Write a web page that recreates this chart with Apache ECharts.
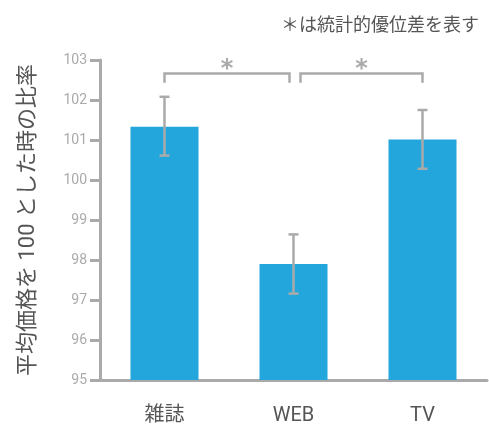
<!DOCTYPE html>
<html>
<head>
<meta charset="utf-8">
<script src="https://cdn.jsdelivr.net/npm/echarts@6/dist/echarts.min.js"></script>
<style>
  html, body { margin: 0; padding: 0; background: #fff; }
  #chart { width: 489px; height: 426px; }
</style>
</head>
<body>
<div id="chart"></div>
<script>
// Media categories and mean price ratio (average price = 100)
const categories = ['雑誌', 'WEB', 'TV'];
const means = [101.33, 97.90, 101.01];
const errLow = [100.61, 97.16, 100.28];
const errHigh = [102.08, 98.64, 101.75];
// Significance brackets: [from index, to index]
const sigPairs = [[0, 1], [1, 2]];
const sigMark = '*';
const yTicks = [95, 96, 97, 98, 99, 100, 101, 102, 103];

const FONT = '"Roboto", "Noto Sans CJK JP", sans-serif';
const GRAY = '#aaaaaa';

const chart = echarts.init(document.getElementById('chart'));

const errData = categories.map((c, i) => [i, errLow[i], errHigh[i]]);
const sigData = sigPairs.map(p => [p[0], p[1]]);

chart.setOption({
  animation: false,
  textStyle: { fontFamily: FONT },
  title: {
    text: '＊は統計的優位差を表す',
    right: 5,
    top: 10,
    textStyle: { fontSize: 18, fontWeight: 'normal', color: '#555', fontFamily: '"Noto Sans CJK JP", sans-serif' }
  },
  grid: { left: 100, right: 2, top: 60, bottom: 45 },
  xAxis: {
    type: 'category',
    data: categories,
    axisLine: { lineStyle: { color: GRAY, width: 3 } },
    axisTick: { show: false },
    axisLabel: { fontSize: 20, color: '#555', margin: 26 }
  },
  yAxis: {
    type: 'value',
    min: yTicks[0],
    max: yTicks[yTicks.length - 1],
    interval: 1,
    name: '平均価格を 100 とした時の比率',
    nameLocation: 'middle',
    nameGap: 60,
    nameRotate: 90,
    nameTextStyle: { fontSize: 22, color: '#555' },
    axisLine: { show: true, lineStyle: { color: GRAY, width: 3 } },
    axisTick: { show: true, length: 10, lineStyle: { color: GRAY, width: 3 } },
    axisLabel: { fontSize: 14, color: GRAY, margin: 13 },
    splitLine: { show: false }
  },
  series: [
    {
      type: 'bar',
      data: means,
      barWidth: 68,
      itemStyle: { color: '#23a6dc' },
      z: 2
    },
    {
      type: 'custom',
      data: errData,
      z: 3,
      renderItem: function (params, api) {
        const lo = api.coord([api.value(0), api.value(1)]);
        const hi = api.coord([api.value(0), api.value(2)]);
        const cap = 5;
        const style = { stroke: GRAY, lineWidth: 2.5, fill: null };
        return {
          type: 'group',
          children: [
            { type: 'line', shape: { x1: hi[0], y1: hi[1], x2: lo[0], y2: lo[1] }, style },
            { type: 'line', shape: { x1: hi[0] - cap, y1: hi[1], x2: hi[0] + cap, y2: hi[1] }, style },
            { type: 'line', shape: { x1: lo[0] - cap, y1: lo[1], x2: lo[0] + cap, y2: lo[1] }, style }
          ]
        };
      }
    },
    {
      type: 'custom',
      data: sigData,
      z: 3,
      renderItem: function (params, api) {
        const a = api.coord([api.value(0), 102.66]);
        const b = api.coord([api.value(1), 102.66]);
        const legY = api.coord([0, 102.43])[1];
        const x1 = a[0] + (params.dataIndex === 0 ? 0 : 7);
        const x2 = b[0] - (params.dataIndex === 0 ? 4 : 0);
        const y = a[1];
        const style = { stroke: GRAY, lineWidth: 2.5, fill: null };
        return {
          type: 'group',
          children: [
            { type: 'polyline', shape: { points: [[x1, legY], [x1, y], [x2, y], [x2, legY]] }, style },
            {
              type: 'text',
              style: {
                text: sigMark,
                x: (x1 + x2) / 2,
                y: y + 8,
                textAlign: 'center',
                textVerticalAlign: 'bottom',
                font: 'bold 24px "DejaVu Sans", sans-serif',
                fill: GRAY
              }
            }
          ]
        };
      }
    }
  ]
});
</script>
</body>
</html>
